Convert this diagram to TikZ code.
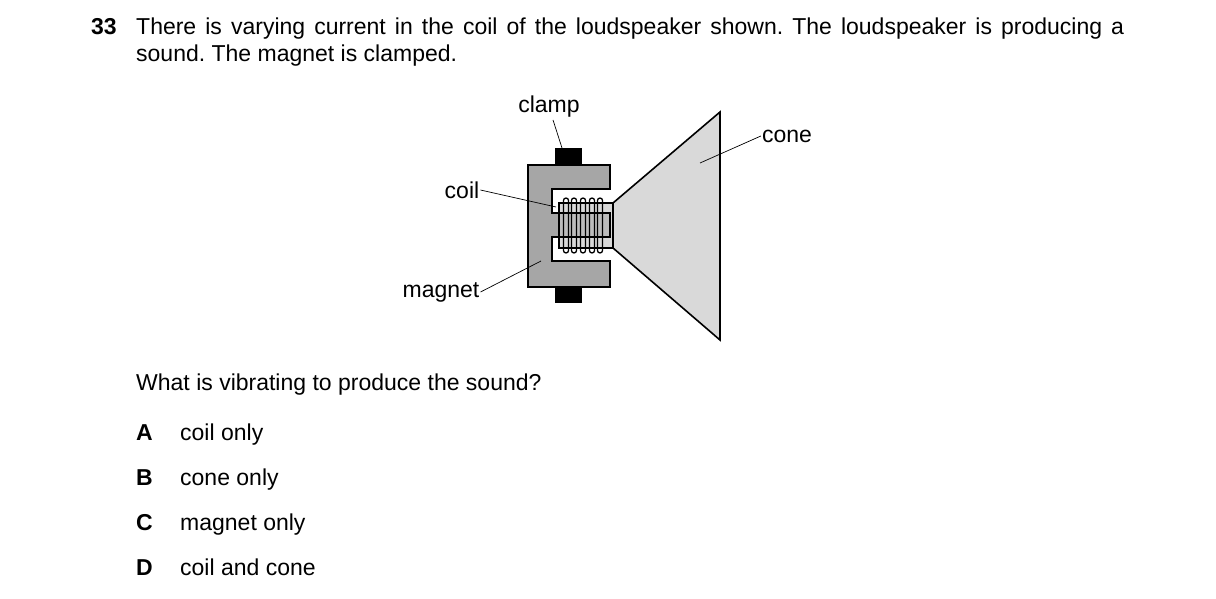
\documentclass[tikz,border=0pt]{standalone}
\usepackage{fontspec}
\setmainfont{Liberation Sans}
\usetikzlibrary{positioning}
\definecolor{magnetgrey}{HTML}{A6A6A6}
\definecolor{conegrey}{HTML}{D9D9D9}
\definecolor{polegrey}{HTML}{BDBDBD}
\tikzset{
  txt/.style={anchor=base west, inner sep=0pt, font=\fontsize{23}{27}\selectfont},
  lbl/.style={inner sep=1pt, font=\fontsize{23}{27}\selectfont},
  part/.style={draw=black, line width=1.6pt},
  leader/.style={line width=0.7pt}
}
\frenchspacing
\begin{document}
\begin{tikzpicture}[x=1pt,y=-1pt]
				\useasboundingbox (0,0) rectangle (1216,599);
				% question
				\node[txt, font=\fontsize{23}{27}\selectfont\bfseries] (num) at (91,35) {33};
				\node[txt, text width=988pt, align=justify] (q) at (136,35) {There is varying current in the coil of the loudspeaker shown. The loudspeaker is producing a\linebreak sound. The magnet is clamped.};
				% clamps
				\fill (555,148) rectangle (582,166);
				\fill (555,286) rectangle (582,303);
				% cone
				\draw[part, fill=conegrey] (613,203) -- (720,112) -- (720,340) -- (613,248) -- cycle;
				% magnet
				\draw[part, fill=magnetgrey] (528,165) -- (610,165) -- (610,189) -- (552,189) -- (552,213) -- (610,213) -- (610,237) -- (552,237) -- (552,261) -- (610,261) -- (610,287) -- (528,287) -- cycle;
				% coil former and pole
				\draw[part, fill=conegrey] (559,203) rectangle (613,248);
				\draw[part, fill=polegrey] (559,213) rectangle (610,237);
				% coil turns
				\foreach \x in {566,574,583,592,600}
					\draw[line width=1.3pt, rounded corners=2.5pt] (\x-2.5,198) rectangle (\x+2.5,253);
				% labels
				\node[lbl] (clamp) at (549,107) {clamp};
				\node[lbl] (cone) at (787,136) {cone};
				\node[lbl] (coil) at (462,190) {coil};
				\node[lbl] (magnet) at (441,292) {magnet};
				\coordinate (clampend) at (562,148);
				\coordinate (coneend) at (700,163);
				\coordinate (coilend) at (556,207);
				\coordinate (magnetend) at (541,261);
				\draw[leader] (clamp.south) ++(4,1) -- (clampend);
				\draw[leader] (cone.west) -- (coneend);
				\draw[leader] (coil.east) -- (coilend);
				\draw[leader] (magnet.east) -- (magnetend);
				% options
				\node[txt] (ask) at (136,390) {What is vibrating to produce the sound?};
				\foreach \l/\t [count=\i] in {A/coil only, B/cone only, C/magnet only, D/coil and cone}{
					\node[txt, font=\fontsize{23}{27}\selectfont\bfseries] (opt\l) at (136,395+45*\i) {\l};
					\node[txt] (ans\l) at (180,395+45*\i) {\t};
				}
			\end{tikzpicture}
\end{document}
